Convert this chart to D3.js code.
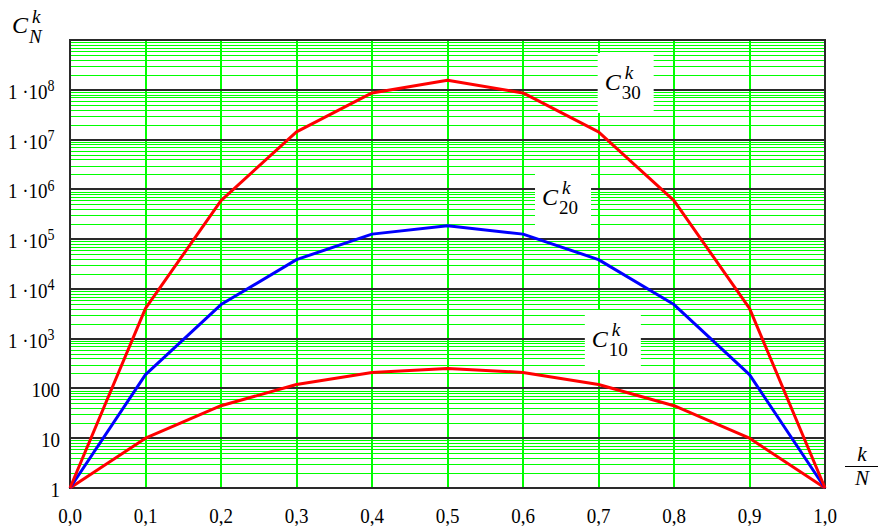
<!DOCTYPE html>
<html>
<head>
<meta charset="utf-8">
<script src="https://cdn.jsdelivr.net/npm/d3@7"></script>
<style>
  html, body { margin: 0; padding: 0; background: #fff; }
  svg { display: block; }
  svg text { font-family: "Liberation Serif", "Tinos", "Times New Roman", "DejaVu Serif", serif; fill: #000; }
</style>
</head>
<body>
<svg id="chart" width="878" height="526"></svg>
<script>
// Binomial coefficients C(N, k) sampled at k/N = 0, 0.1, ..., 1.0
const ratios = [0, 0.1, 0.2, 0.3, 0.4, 0.5, 0.6, 0.7, 0.8, 0.9, 1.0];
const c10 = [1, 10, 45, 120, 210, 252, 210, 120, 45, 10, 1];
const c20 = [1, 190, 4845, 38760, 125970, 184756, 125970, 38760, 4845, 190, 1];
const c30 = [1, 4060, 593775, 14307150, 86493225, 155117520, 86493225, 14307150, 593775, 4060, 1];

const xTickLabels = ["0,0", "0,1", "0,2", "0,3", "0,4", "0,5", "0,6", "0,7", "0,8", "0,9", "1,0"];
// y tick labels: plain text or mantissa/exponent pairs
const yTickValues = [1, 10, 100, 1e3, 1e4, 1e5, 1e6, 1e7, 1e8];
const yTickPlain = ["1", "10", "100", null, null, null, null, null, null];
const yTickExp = [null, null, null, "3", "4", "5", "6", "7", "8"];

const seriesNames = ["10", "20", "30"];
const seriesColors = ["#ff0000", "#0000ff", "#ff0000"];
const seriesData = [c10, c20, c30];
// label box centres expressed in data coordinates
const labelAt = [[0.719, 940], [0.653, 6.7e5], [0.736, 1.37e8]];

const svg = d3.select("#chart");
const plotL = 70, plotR = 825, plotT = 40, plotB = 488;
const tall = 1.12; // vertical stretch of the tick lettering

const x = d3.scaleLinear().domain([0, 1]).range([plotL, plotR]);
const y = d3.scaleLog().domain([1, 1e9]).range([plotB, plotT]);

// minor log grid (2..9 in each decade)
const minor = [];
for (let e = 0; e < 9; e++) for (let m = 2; m <= 9; m++) minor.push(m * Math.pow(10, e));

const grid = svg.append("g").attr("shape-rendering", "crispEdges");
grid.append("g").selectAll("line").data(minor).join("line")
  .attr("x1", plotL).attr("x2", plotR)
  .attr("y1", d => Math.round(y(d)) + 0.5).attr("y2", d => Math.round(y(d)) + 0.5)
  .attr("stroke", "#00ff00").attr("stroke-width", 1);

grid.append("g").selectAll("line").data(d3.range(1, 10).map(i => i / 10)).join("line")
  .attr("x1", d => Math.round(x(d))).attr("x2", d => Math.round(x(d)))
  .attr("y1", plotT).attr("y2", plotB)
  .attr("stroke", "#00ff00").attr("stroke-width", 2);

// decade lines
grid.append("g").selectAll("line").data(d3.range(1, 9).map(e => Math.pow(10, e))).join("line")
  .attr("x1", plotL).attr("x2", plotR)
  .attr("y1", d => Math.round(y(d))).attr("y2", d => Math.round(y(d)))
  .attr("stroke", "#2a2a2a").attr("stroke-width", 2);

// white backing boxes behind the curve labels
const boxW = 56, boxH = 60;
svg.append("g").selectAll("rect").data(labelAt).join("rect")
  .attr("x", d => x(d[0]) - boxW / 2)
  .attr("y", d => y(d[1]) - boxH / 2)
  .attr("width", boxW).attr("height", boxH)
  .attr("fill", "#fff");

// frame
svg.append("rect")
  .attr("x", plotL).attr("y", plotT)
  .attr("width", plotR - plotL).attr("height", plotB - plotT)
  .attr("fill", "none").attr("stroke", "#2a2a2a").attr("stroke-width", 2)
  .attr("shape-rendering", "crispEdges");

// curves
const line = d3.line().x((d, i) => x(ratios[i])).y(d => y(d));
svg.append("g").selectAll("path").data(seriesData).join("path")
  .attr("d", d => line(d))
  .attr("fill", "none")
  .attr("stroke", (d, i) => seriesColors[i])
  .attr("stroke-width", 3)
  .attr("stroke-linejoin", "round");

// curve labels C^k_N
const labels = svg.append("g").selectAll("g").data(labelAt).join("g")
  .attr("transform", d => `translate(${x(d[0])},${y(d[1])})`);
labels.append("text")
  .attr("x", -21).attr("y", 7)
  .attr("font-size", 24).attr("font-style", "italic")
  .text("C");
labels.append("text")
  .attr("x", -1).attr("y", -4)
  .attr("font-size", 19).attr("font-style", "italic")
  .text("k");
labels.append("text")
  .attr("x", -4).attr("y", 16)
  .attr("font-size", 19)
  .text((d, i) => seriesNames[i]);

// x tick labels
svg.append("g").selectAll("g").data(ratios).join("g")
  .attr("transform", d => `translate(${x(d)},523) scale(1,${tall})`)
  .append("text")
  .attr("text-anchor", "middle")
  .attr("font-size", 19)
  .text((d, i) => xTickLabels[i]);

// y tick labels
const yl = svg.append("g").selectAll("g").data(yTickValues).join("g")
  .attr("transform", d => `translate(0,${y(d) + 9}) scale(1,${tall})`)
  .append("text")
  .attr("font-size", 19);
yl.filter((d, i) => yTickPlain[i] !== null)
  .attr("x", 60).attr("text-anchor", "end")
  .text(d => yTickPlain[yTickValues.indexOf(d)]);
yl.filter((d, i) => yTickExp[i] !== null)
  .attr("x", 8)
  .each(function (d) {
    const t = d3.select(this);
    const i = yTickValues.indexOf(d);
    t.append("tspan").text("1 \u00b710");
    t.append("tspan").attr("font-size", 14).attr("dy", -7).text(yTickExp[i]);
  });

// axis titles
svg.append("text").attr("x", 12).attr("y", 33).attr("font-size", 24).attr("font-style", "italic").text("C");
svg.append("text").attr("x", 32).attr("y", 23).attr("font-size", 19).attr("font-style", "italic").text("k");
svg.append("text").attr("x", 29).attr("y", 43).attr("font-size", 19).attr("font-style", "italic").text("N");

svg.append("text").attr("x", 862).attr("y", 461).attr("font-size", 21).attr("font-style", "italic")
  .attr("text-anchor", "middle").text("k");
svg.append("line").attr("x1", 845).attr("x2", 878).attr("y1", 466.5).attr("y2", 466.5)
  .attr("stroke", "#000").attr("stroke-width", 1);
svg.append("text").attr("x", 862).attr("y", 485).attr("font-size", 21).attr("font-style", "italic")
  .attr("text-anchor", "middle").text("N");
</script>
</body>
</html>
